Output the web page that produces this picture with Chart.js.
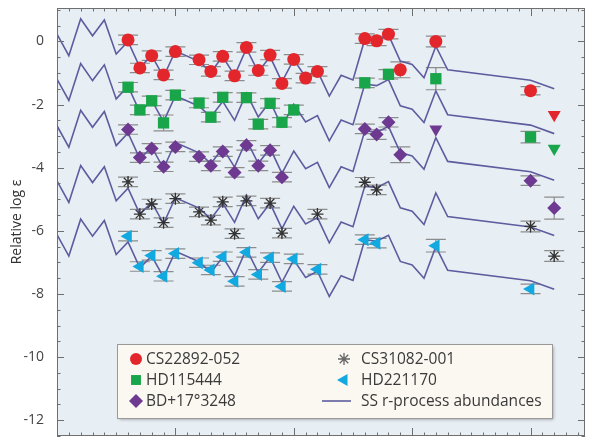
<!DOCTYPE html>
<html>
<head>
<meta charset="utf-8">
<script src="https://cdn.jsdelivr.net/npm/chart.js@4"></script>
<style>
  html, body { margin: 0; padding: 0; background: #fff; }
</style>
</head>
<body>
<canvas id="myChart" width="593" height="444"></canvas>
<script>
// atomic numbers used by the solar-system r-process curve
const ssZ = [50,51,52,53,54,55,56,57,58,59,60,62,63,64,65,66,67,68,69,70,71,72,73,74,75,76,77,78,79,80,81,82,83,90,92];
const ssRed = [0.23,-0.45,0.72,0.18,0.68,-0.40,0.00,-0.82,-0.45,-1.12,-0.30,-0.63,-0.97,-0.48,-1.08,-0.22,-0.97,-0.48,-1.28,-0.57,-1.13,-0.93,-1.73,-1.07,-1.22,0.07,0.02,0.21,-0.62,-0.73,-1.15,-0.15,-0.90,-1.23,-1.50];
const ssGreen = [-1.19,-1.87,-0.70,-1.24,-0.74,-1.82,-1.42,-2.24,-1.87,-2.54,-1.72,-2.05,-2.39,-1.90,-2.50,-1.64,-2.39,-1.90,-2.70,-1.99,-2.55,-2.35,-3.15,-2.49,-2.64,-1.35,-1.40,-1.21,-2.04,-2.15,-2.57,-1.57,-2.32,-2.65,-2.92];
const ssPurple = [-2.67,-3.35,-2.18,-2.72,-2.22,-3.30,-2.90,-3.72,-3.35,-4.02,-3.20,-3.53,-3.87,-3.38,-3.98,-3.12,-3.87,-3.38,-4.18,-3.47,-4.03,-3.83,-4.63,-3.97,-4.12,-2.83,-2.88,-2.69,-3.52,-3.63,-4.05,-3.05,-3.80,-4.13,-4.40];
const ssBlack = [-4.42,-5.10,-3.93,-4.47,-3.97,-5.05,-4.65,-5.47,-5.10,-5.77,-4.95,-5.28,-5.62,-5.13,-5.73,-4.87,-5.62,-5.13,-5.93,-5.22,-5.78,-5.58,-6.38,-5.72,-5.87,-4.58,-4.63,-4.44,-5.27,-5.38,-5.80,-4.80,-5.55,-5.88,-6.15];
const ssBlue = [-6.12,-6.80,-5.63,-6.17,-5.67,-6.75,-6.35,-7.17,-6.80,-7.47,-6.65,-6.98,-7.32,-6.83,-7.43,-6.57,-7.32,-6.83,-7.63,-6.92,-7.48,-7.28,-8.08,-7.42,-7.57,-6.28,-6.33,-6.14,-6.97,-7.08,-7.50,-6.50,-7.25,-7.58,-7.85];

// CS22892-052
const zRed = [56,57,58,59,60,62,63,64,65,66,67,68,69,70,71,72,76,77,78,79,82,90];
const logRed = [0.05,-0.84,-0.45,-1.06,-0.32,-0.58,-0.95,-0.47,-1.09,-0.19,-0.92,-0.43,-1.33,-0.57,-1.16,-0.95,0.09,0.02,0.23,-0.90,0.00,-1.56];
const errRed = [0.15,0.15,0.15,0.15,0.15,0.15,0.15,0.15,0.15,0.15,0.15,0.15,0.15,0.15,0.15,0.15,0.15,0.15,0.15,0.25,0.17,0.13];
const zRedLim = [92];
const logRedLim = [-2.32];

// HD115444
const zGreen = [56,57,58,59,60,62,63,64,66,67,68,69,70,76,78,82,90];
const logGreen = [-1.45,-2.17,-1.88,-2.58,-1.70,-1.95,-2.40,-1.77,-1.78,-2.62,-1.96,-2.56,-2.17,-1.31,-1.04,-1.18,-3.03];
const errGreen = [0.15,0.15,0.15,0.25,0.15,0.15,0.15,0.15,0.15,0.15,0.15,0.15,0.15,0.15,0.15,0.35,0.18];
const zGreenLim = [92];
const logGreenLim = [-3.39];

// BD+17°3248
const zPurple = [56,57,58,59,60,62,63,64,65,66,67,68,69,76,77,78,79,90,92];
const logPurple = [-2.79,-3.68,-3.39,-3.97,-3.34,-3.65,-3.94,-3.49,-4.15,-3.29,-3.94,-3.45,-4.30,-2.77,-2.95,-2.56,-3.59,-4.41,-5.28];
const errPurple = [0.15,0.15,0.15,0.15,0.15,0.15,0.15,0.15,0.15,0.15,0.15,0.15,0.15,0.15,0.15,0.15,0.25,0.15,0.35];
const zPurpleLim = [82];
const logPurpleLim = [-2.78];

// CS31082-001
const zBlack = [56,57,58,59,60,62,63,64,65,66,68,69,72,76,77,90,92];
const logBlack = [-4.45,-5.47,-5.15,-5.74,-4.98,-5.40,-5.66,-5.08,-6.09,-5.05,-5.12,-6.07,-5.47,-4.46,-4.70,-5.86,-6.80];
const errBlack = [0.15,0.15,0.15,0.15,0.15,0.15,0.15,0.15,0.15,0.15,0.15,0.15,0.15,0.15,0.15,0.17,0.17];

// HD221170
const zBlue = [56,57,58,59,60,62,63,64,65,66,67,68,69,70,72,76,77,82,90];
const logBlue = [-6.17,-7.13,-6.78,-7.44,-6.72,-7.01,-7.24,-6.82,-7.60,-6.68,-7.38,-6.85,-7.76,-6.89,-7.22,-6.28,-6.39,-6.47,-7.84];
const errBlue = [0.15,0.15,0.15,0.15,0.15,0.15,0.15,0.15,0.15,0.15,0.15,0.15,0.15,0.15,0.15,0.15,0.15,0.2,0.15];

const yTickValues = [0,-2,-4,-6,-8,-10,-12];
const yTitle = "Relative log \u03b5";
const ssLabel = "SS r-process abundances";

const RED = "#e2262c", GREEN = "#19a64a", PURPLE = "#6e3991", BLACK = "#333333", BLUE = "#12a8e0", LINE = "#5c5c9e";

function pts(zs, vals) {
  return zs.map((z, i) => ({ x: z, y: vals[i] }));
}

function star(label, zs, vals, errs, color, style, radius, rotation) {
  return {
    label: label,
    data: pts(zs, vals),
    errors: errs,
    showLine: false,
    pointStyle: style,
    pointRadius: radius,
    pointRotation: rotation,
    backgroundColor: color,
    borderColor: style === "star" ? BLACK : color,
    borderWidth: style === "star" ? 1.3 : 0,
  };
}

function limit(zs, vals, color) {
  return {
    label: "",
    data: pts(zs, vals),
    showLine: false,
    pointStyle: "triangle",
    pointRadius: 7.5,
    pointRotation: 180,
    backgroundColor: color,
    borderColor: color,
    borderWidth: 0,
  };
}

function ssLine(vals) {
  return {
    label: ssLabel,
    data: pts(ssZ, vals),
    showLine: true,
    pointRadius: 0,
    borderColor: LINE,
    borderWidth: 1.6,
    tension: 0,
  };
}

const legendItems = [
  { text: "CS22892-052", style: "circle", color: RED, radius: 6, rot: 0, col: 0, row: 0 },
  { text: "HD115444", style: "rect", color: GREEN, radius: 7, rot: 0, col: 0, row: 1 },
  { text: "BD+17\u00b03248", style: "rectRot", color: PURPLE, radius: 7, rot: 0, col: 0, row: 2 },
  { text: "CS31082-001", style: "star", color: "#666", radius: 6, rot: 0, col: 1, row: 0 },
  { text: "HD221170", style: "triangle", color: BLUE, radius: 7, rot: -90, col: 1, row: 1 },
  { text: ssLabel, style: "line", color: LINE, col: 1, row: 2 },
];

const errorBars = {
  id: "errorBars",
  beforeDatasetsDraw(chart) {
    const ctx = chart.ctx;
    const ys = chart.scales.y;
    ctx.save();
    ctx.strokeStyle = "#8c8c8c";
    ctx.lineWidth = 1.2;
    chart.data.datasets.forEach((ds, i) => {
      if (!ds.errors) return;
      const meta = chart.getDatasetMeta(i);
      meta.data.forEach((el, j) => {
        const v = ds.data[j].y;
        const top = ys.getPixelForValue(v + ds.errors[j]);
        const bot = ys.getPixelForValue(v - ds.errors[j]);
        ctx.beginPath();
        ctx.moveTo(el.x, top);
        ctx.lineTo(el.x, bot);
        ctx.moveTo(el.x - 10, top);
        ctx.lineTo(el.x + 10, top);
        ctx.moveTo(el.x - 10, bot);
        ctx.lineTo(el.x + 10, bot);
        ctx.stroke();
      });
    });
    ctx.restore();
  },
};

const frame = {
  id: "frame",
  beforeDraw(chart) {
    const { ctx, chartArea: a } = chart;
    ctx.save();
    ctx.fillStyle = "#e8eff4";
    ctx.fillRect(a.left, a.top, a.right - a.left, a.bottom - a.top);
    ctx.restore();
  },
  afterDatasetsDraw(chart) {
    const { ctx, chartArea: a, scales } = chart;
    ctx.save();
    ctx.strokeStyle = "#6f6f6f";
    ctx.lineWidth = 1;
    ctx.strokeRect(a.left + 0.5, a.top + 0.5, a.right - a.left - 1, a.bottom - a.top - 1);
    ctx.beginPath();
    for (let z = 50; z <= scales.x.max; z++) {
      const x = Math.round(scales.x.getPixelForValue(z)) + 0.5;
      const len = z % 10 === 0 ? 8 : 3.5;
      ctx.moveTo(x, a.bottom);
      ctx.lineTo(x, a.bottom - len);
      ctx.moveTo(x, a.top);
      ctx.lineTo(x, a.top + len);
    }
    for (let v = -12.5; v <= scales.y.max; v += 0.5) {
      const y = Math.round(scales.y.getPixelForValue(v)) + 0.5;
      const len = v % 2 === 0 ? 7 : 3.5;
      ctx.moveTo(a.left, y);
      ctx.lineTo(a.left + len, y);
      ctx.moveTo(a.right, y);
      ctx.lineTo(a.right - len, y);
    }
    ctx.stroke();
    ctx.restore();
  },
  afterDraw(chart) {
    const ctx = chart.ctx;
    const box = { x: 117, y: 344, w: 435, h: 74 };
    ctx.save();
    ctx.shadowColor = "rgba(0,0,0,0.35)";
    ctx.shadowBlur = 3;
    ctx.shadowOffsetX = 1.5;
    ctx.shadowOffsetY = 1.5;
    ctx.fillStyle = "#fbf7f1";
    ctx.fillRect(box.x, box.y, box.w, box.h);
    ctx.restore();
    ctx.save();
    ctx.strokeStyle = "#9a9a9a";
    ctx.lineWidth = 1;
    ctx.strokeRect(box.x + 0.5, box.y + 0.5, box.w, box.h);
    ctx.font = '15.5px "Open Sans"';
    ctx.textBaseline = "middle";
    ctx.fillStyle = "#3a3a3a";
    legendItems.forEach((it) => {
      const mx = it.col === 0 ? 136 : 344;
      const tx = it.col === 0 ? 146 : 361;
      const y = 359 + it.row * 21;
      if (it.style === "line") {
        ctx.strokeStyle = it.color;
        ctx.lineWidth = 1.6;
        ctx.beginPath();
        ctx.moveTo(322, y);
        ctx.lineTo(351, y);
        ctx.stroke();
      } else {
        ctx.fillStyle = it.color;
        ctx.strokeStyle = it.color;
        ctx.lineWidth = 1.3;
        Chart.helpers.drawPoint(ctx, {
          pointStyle: it.style,
          rotation: it.rot,
          radius: it.radius,
          borderWidth: it.style === "star" ? 1.3 : 0,
        }, mx, y);
      }
      ctx.fillStyle = "#3a3a3a";
      ctx.fillText(it.text, tx, y + 1);
    });
    ctx.restore();
  },
};

function setup() {
  const ctx = document.getElementById("myChart").getContext("2d");
  new Chart(ctx, {
    type: "scatter",
    data: {
      datasets: [
        star("CS22892-052", zRed, logRed, errRed, RED, "circle", 6.5, 0),
        star("HD115444", zGreen, logGreen, errGreen, GREEN, "rect", 8, 0),
        star("BD+17\u00b03248", zPurple, logPurple, errPurple, PURPLE, "rectRot", 7, 0),
        star("CS31082-001", zBlack, logBlack, errBlack, BLACK, "star", 6, 0),
        star("HD221170", zBlue, logBlue, errBlue, BLUE, "triangle", 7.5, -90),
        limit(zRedLim, logRedLim, RED),
        limit(zGreenLim, logGreenLim, GREEN),
        limit(zPurpleLim, logPurpleLim, PURPLE),
        ssLine(ssRed),
        ssLine(ssGreen),
        ssLine(ssPurple),
        ssLine(ssBlack),
        ssLine(ssBlue),
      ],
    },
    options: {
      responsive: false,
      animation: false,
      layout: { padding: { top: 5, right: 5, bottom: 5, left: 0 } },
      plugins: { legend: { display: false }, tooltip: { enabled: false } },
      scales: {
        x: {
          type: "linear",
          display: false,
          min: 50,
          max: 94.6,
        },
        y: {
          type: "linear",
          min: -12.5,
          max: 1.06,
          grid: { display: false },
          border: { display: false },
          afterBuildTicks: (s) => {
            s.ticks = yTickValues.map((v) => ({ value: v }));
          },
          afterFit: (s) => {
            s.width = 57;
            s.paddingTop = 0;
            s.paddingBottom = 0;
          },
          ticks: {
            padding: 5,
            color: "#444",
            font: { family: "Open Sans", size: 14 },
          },
          title: {
            display: true,
            text: yTitle,
            color: "#333",
            font: { family: "Open Sans", size: 14 },
            padding: { top: 9, bottom: 0 },
          },
        },
      },
    },
    plugins: [frame, errorBars],
  });
}

window.addEventListener("load", setup);
</script>
</body>
</html>
